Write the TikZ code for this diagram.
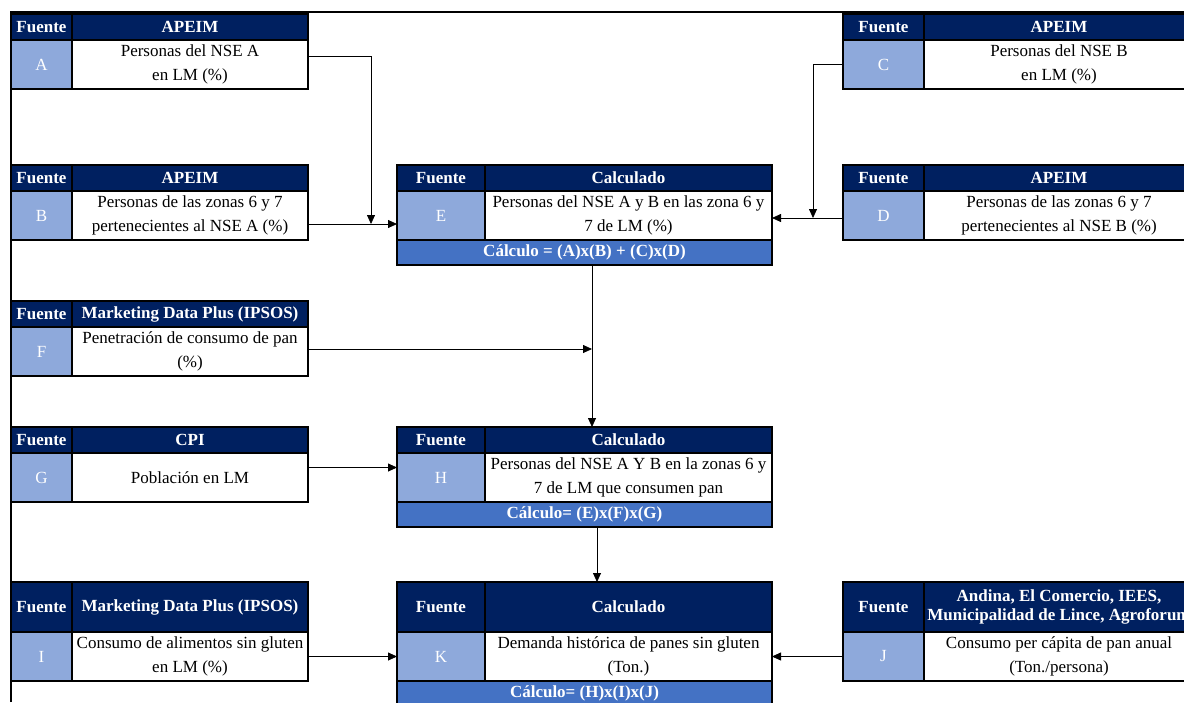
\documentclass[tikz,border=0pt]{standalone}
\usepackage{fontspec}
\setmainfont{Liberation Serif}
\usetikzlibrary{arrows.meta}
\definecolor{navy}{RGB}{0,32,96}
\definecolor{srcblue}{RGB}{142,169,219}
\definecolor{calcblue}{RGB}{68,114,196}

\tikzset{
  cell/.style={draw=black, line width=1.2pt, inner sep=0pt, outer sep=0pt,
    align=center, anchor=north west, font=\fontsize{17}{23.5}\selectfont},
  hdr/.style={cell, fill=navy, text=white, font=\fontsize{17}{19.5}\selectfont\bfseries},
  letter/.style={cell, fill=srcblue, text=white},
  body/.style={cell, fill=white, text=black},
  calcbar/.style={cell, fill=calcblue, text=white, font=\fontsize{17}{19.5}\selectfont\bfseries},
  link/.style={draw=black, line width=0.8pt, -{Triangle[length=9pt,width=8pt]}},
  frame/.style={draw=black, line width=1.5pt},
}

% #1 name, #2 x, #3 y, #4 source column width, #5 title width,
% #6 header height, #7 title, #8 letter, #9 description
\newcommand{\srcblock}[9]{%
  \node[hdr, minimum width=#4pt, minimum height=#6pt] (#1f) at (#2,#3) {Fuente};
  \node[hdr, minimum width=#5pt, minimum height=#6pt] (#1t) at (#1f.north east) {#7};
  \node[letter, minimum width=#4pt, minimum height=49pt] (#1l) at (#1f.south west) {#8};
  \node[body, minimum width=#5pt, minimum height=49pt] (#1b) at (#1l.north east) {#9};
}

\begin{document}
\begin{tikzpicture}[x=1pt, y=-1pt]
  \useasboundingbox[fill=white] (0,0) rectangle (1184,702);

  % outer frame
  \draw[frame] (11,702) -- (11,12) -- (1184,12);

  % input blocks
  \srcblock{A}{11}{14}{61}{236}{26}{APEIM}{A}{Personas del NSE A\\en LM (\%)}
  \srcblock{B}{11}{165}{61}{236}{26}{APEIM}{B}{Personas de las zonas 6 y 7\\pertenecientes al NSE A (\%)}
  \srcblock{C}{843}{14}{81}{270}{26}{APEIM}{C}{Personas del NSE B\\en LM (\%)}
  \srcblock{D}{843}{165}{81}{270}{26}{APEIM}{D}{Personas de las zonas 6 y 7\\pertenecientes al NSE B (\%)}
  \srcblock{F}{11}{301}{61}{236}{26}{Marketing Data Plus (IPSOS)}{F}{Penetración de consumo de pan\\(\%)}
  \srcblock{G}{11}{427}{61}{236}{26}{CPI}{G}{Población en LM}
  \srcblock{I}{11}{582}{61}{236}{50}{Marketing Data Plus (IPSOS)}{I}{Consumo de alimentos sin gluten\\en LM (\%)}
  \srcblock{J}{843}{582}{81}{270}{50}{Andina, El Comercio, IEES,\\Municipalidad de Lince, Agroforum}{J}{Consumo per cápita de pan anual\\(Ton./persona)}

  % calculated blocks
  \srcblock{E}{397}{165}{88}{287}{26}{Calculado}{E}{Personas del NSE A y B en las zona 6 y\\7 de LM (\%)}
  \node[calcbar, minimum width=375pt, minimum height=25pt] (Ec) at (El.south west) {Cálculo = (A)x(B) + (C)x(D)};
  \srcblock{H}{397}{427}{88}{287}{26}{Calculado}{H}{Personas del NSE A Y B en la zonas 6 y\\7 de LM que consumen pan}
  \node[calcbar, minimum width=375pt, minimum height=25pt] (Hc) at (Hl.south west) {Cálculo= (E)x(F)x(G)};
  \srcblock{K}{397}{582}{88}{287}{50}{Calculado}{K}{Demanda histórica de panes sin gluten\\(Ton.)}
  \node[calcbar, minimum width=375pt, minimum height=25pt] (Kc) at (Kl.south west) {Cálculo= (H)x(I)x(J)};

  % junction points
  \coordinate (jA) at ([xshift=-26pt, yshift=-8.5pt]El.west);
  \coordinate (jC) at ([xshift=-30pt, yshift=-2.5pt]Dl.west);
  \coordinate (eh) at ([xshift=7.5pt]Ec.south);
  \coordinate (fOut) at ([yshift=2.5pt]Fb.east);
  \coordinate (hk) at ([xshift=12.5pt]Hc.south);

  % connectors
  \draw[link] ([yshift=8pt]Ab.east) -| (jA);
  \draw[link] ([yshift=-8.5pt]Bb.east) -- ([yshift=-8.5pt]El.west);
  \draw[link] (Cl.west) -| (jC);
  \draw[link] ([yshift=-2.5pt]Dl.west) -- ([yshift=-2.5pt]Eb.east);
  \draw[link] (eh) -- (eh |- Ht.north);
  \draw[link] (fOut) -- (fOut -| eh);
  \draw[link] ([yshift=10pt]Gb.east) -- ([yshift=10pt]Hl.west);
  \draw[link] (hk) -- (hk |- Kt.north);
  \draw[link] (Ib.east) -- (Kl.west);
  \draw[link] (Jl.west) -- (Kb.east);
\end{tikzpicture}
\end{document}
